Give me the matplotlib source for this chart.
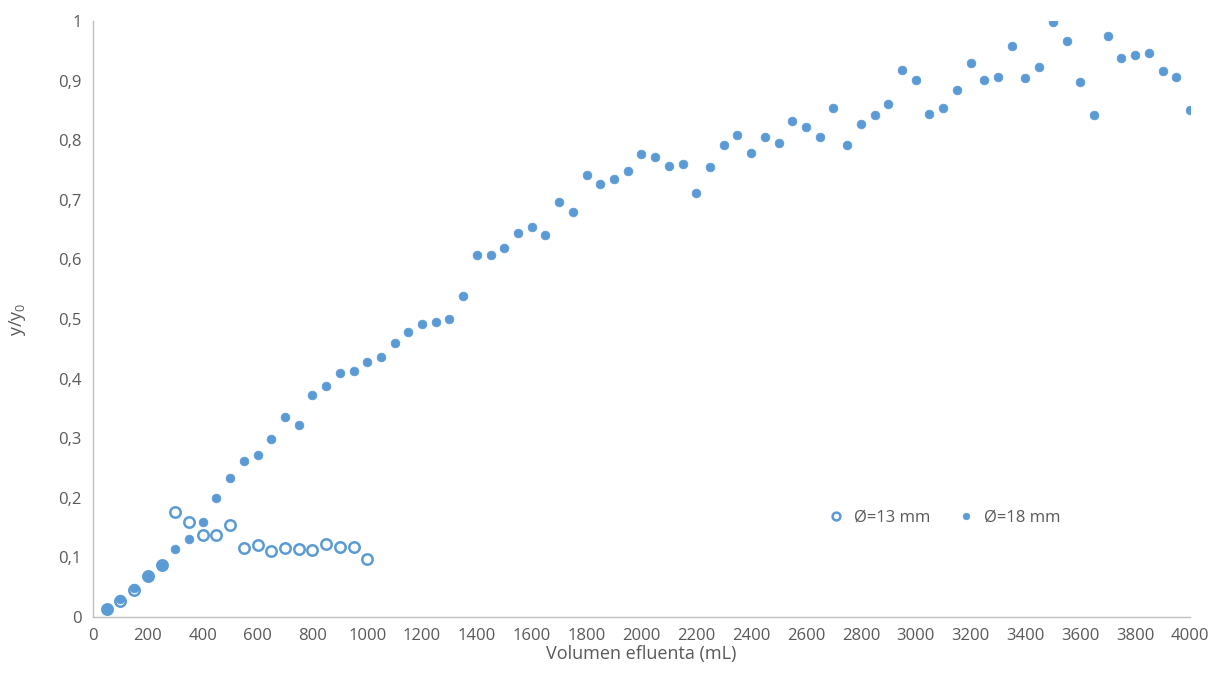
#!/usr/bin/env python3
"""Breakthrough curves y/y0 vs effluent volume for two column diameters."""

import matplotlib
matplotlib.use('Agg')
import matplotlib.pyplot as plt
from matplotlib.ticker import FuncFormatter, MultipleLocator

BLUE = '#5B9BD5'
GREY = '#595959'

# diameter 13 mm (open markers)
vol_13 = [50, 100, 150, 200, 250, 300, 350, 400, 450, 500,
          550, 600, 650, 700, 750, 800, 850, 900, 950, 1000]
y_13 = [0.014, 0.026, 0.045, 0.068, 0.088, 0.176, 0.160, 0.137, 0.137, 0.154,
        0.115, 0.120, 0.110, 0.115, 0.114, 0.112, 0.122, 0.117, 0.117, 0.098]

# diameter 18 mm (filled markers)
vol_18 = list(range(50, 4001, 50))
y_18 = [0.013, 0.030, 0.049, 0.068, 0.088, 0.114, 0.131, 0.160, 0.199, 0.233,
        0.262, 0.272, 0.299, 0.336, 0.322, 0.372, 0.388, 0.409, 0.413, 0.428,
        0.436, 0.460, 0.478, 0.492, 0.495, 0.500, 0.539, 0.607, 0.607, 0.619,
        0.644, 0.654, 0.641, 0.696, 0.680, 0.742, 0.726, 0.735, 0.748, 0.777,
        0.772, 0.757, 0.760, 0.711, 0.755, 0.792, 0.809, 0.778, 0.805, 0.795,
        0.832, 0.822, 0.805, 0.854, 0.792, 0.827, 0.842, 0.861, 0.918, 0.901,
        0.844, 0.854, 0.884, 0.930, 0.901, 0.906, 0.958, 0.904, 0.923, 0.998,
        0.966, 0.898, 0.842, 0.975, 0.938, 0.943, 0.946, 0.916, 0.906, 0.851]

labels = ['Ø=13 mm', 'Ø=18 mm']

plt.rcParams['font.family'] = ['Open Sans', 'DejaVu Sans']
plt.rcParams['mathtext.default'] = 'regular'

fig = plt.figure(figsize=(12.25, 6.92), dpi=100)
ax = fig.add_axes([0.0759, 0.1084, 0.8955, 0.8613])

ax.plot(vol_13, y_13, 'o', ms=7.5, mfc='white', mec=BLUE, mew=1.8,
        linestyle='none', label=labels[0])
ax.plot(vol_18, y_18, 'o', ms=6.3, mfc=BLUE, mec=BLUE, mew=0.5,
        linestyle='none', label=labels[1])

ax.set_xlim(0, 4000)
ax.set_ylim(0, 1)
ax.xaxis.set_major_locator(MultipleLocator(200))
ax.yaxis.set_major_locator(MultipleLocator(0.1))
ax.yaxis.set_major_formatter(FuncFormatter(
    lambda v, _: f'{v:.1f}'.replace('.', ',') if 0 < v < 1 else f'{v:.0f}'))

for side in ('top', 'right'):
    ax.spines[side].set_visible(False)
for side in ('left', 'bottom'):
    ax.spines[side].set_color('#BFBFBF')
    ax.spines[side].set_linewidth(1.0)
ax.tick_params(length=0, labelsize=12, colors=GREY, pad=8)

ax.set_xlabel('Volumen efluenta (mL)', fontsize=13, color=GREY, labelpad=1)
ax.set_ylabel('y/y$_0$', fontsize=13, color=GREY, labelpad=22)

leg = ax.legend(loc='center', bbox_to_anchor=(0.772, 0.167), ncol=2,
                frameon=False, fontsize=12, handletextpad=0.1,
                columnspacing=1.1, markerscale=0.75)
for t in leg.get_texts():
    t.set_color(GREY)

fig.savefig('out.png', dpi=100)
